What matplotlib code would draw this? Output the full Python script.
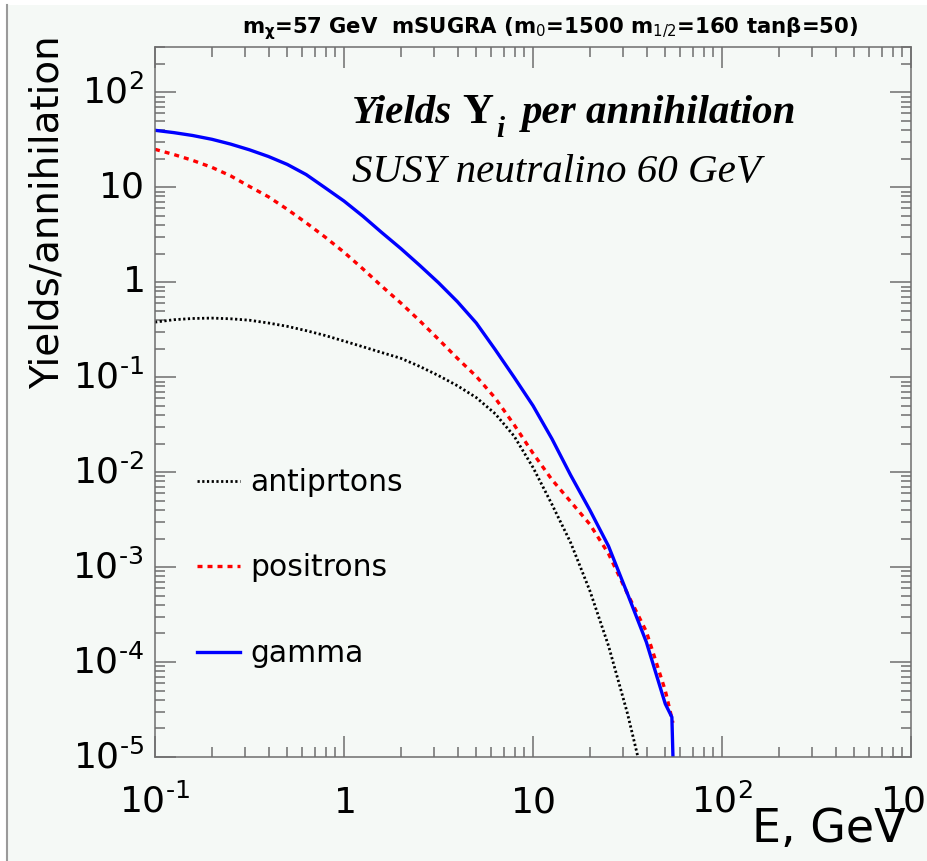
#!/usr/bin/env python3
"""
Yields per annihilation for a 60 GeV SUSY neutralino (mSUGRA point).
"""

import matplotlib.pyplot as plt
from matplotlib.patches import Rectangle
from matplotlib.ticker import LogLocator, NullFormatter

# values
gamma_energy = [0.1, 0.126, 0.158, 0.2, 0.251, 0.316, 0.398, 0.501, 0.631, 0.794,
                1.0, 1.26, 1.58, 2.0, 2.51, 3.16, 3.98, 5.01, 6.31, 7.94,
                10.0, 12.6, 15.8, 20.0, 25.1, 31.6, 39.8, 50.1, 54.3, 55.2]
gamma_yield = [39.8, 37.6, 35.1, 32.0, 28.5, 24.8, 21.1, 17.4, 13.6, 9.89,
               7.16, 4.95, 3.35, 2.26, 1.51, 0.989, 0.624, 0.372, 0.195, 0.100,
               0.0501, 0.0224, 0.00933, 0.00398, 0.00166, 5.25e-4, 1.62e-4, 3.63e-5, 2.63e-5, 7.9e-6]

positron_energy = [0.1, 0.126, 0.158, 0.2, 0.251, 0.316, 0.398, 0.501, 0.631, 0.794,
                   1.0, 1.26, 1.58, 2.0, 2.51, 3.16, 3.98, 5.01, 6.31, 7.94,
                   10.0, 12.6, 15.8, 20.0, 25.1, 31.6, 39.8, 50.1, 55.0]
positron_yield = [25.1, 22.1, 19.2, 16.2, 13.2, 10.2, 7.94, 5.86, 4.22, 2.99,
                  2.07, 1.38, 0.912, 0.603, 0.394, 0.251, 0.158, 0.102, 0.0603, 0.0316,
                  0.0158, 0.00832, 0.0049, 0.00282, 0.00138, 5.25e-4, 2.09e-4, 5.01e-5, 2.29e-5]

antiproton_energy = [0.1, 0.126, 0.158, 0.2, 0.251, 0.316, 0.398, 0.501, 0.631, 0.794,
                     1.0, 1.26, 1.58, 2.0, 2.51, 3.16, 3.98, 5.01, 6.31, 7.94,
                     10.0, 12.6, 15.8, 20.0, 25.1, 31.6, 35.5, 37.2]
antiproton_yield = [0.380, 0.403, 0.415, 0.419, 0.412, 0.398, 0.372, 0.343, 0.309, 0.275,
                    0.240, 0.209, 0.182, 0.158, 0.130, 0.104, 0.0813, 0.0610, 0.0412, 0.0240,
                    0.0112, 0.00457, 0.00182, 5.62e-4, 1.48e-4, 2.88e-5, 1.10e-5, 7.1e-6]

x_ticks = [0.1, 1, 10, 100, 1000]
x_tick_labels = [r"$10^{\text{-}1}$", r"$1$", r"$10$", r"$10^{2}$", r"$10^{3}$"]
y_ticks = [1e-5, 1e-4, 1e-3, 1e-2, 1e-1, 1, 10, 100]
y_tick_labels = [r"$10^{\text{-}5}$", r"$10^{\text{-}4}$", r"$10^{\text{-}3}$",
                 r"$10^{\text{-}2}$", r"$10^{\text{-}1}$", r"$1$", r"$10$", r"$10^{2}$"]

W, H = 927, 861
bg = "#f5f9f6"
axis_grey = "#6e6e6e"


def fx(px):
    return px / W


def fy(py):
    return 1 - py / H


fig = plt.figure(figsize=(W / 100, H / 100), dpi=100, facecolor=bg)

# white strip / border of the original screenshot
fig.patches.append(Rectangle((0, fy(5)), 1, 5 / H, transform=fig.transFigure,
                             facecolor="white", edgecolor="none"))
fig.patches.append(Rectangle((0, 0), fx(6), 1, transform=fig.transFigure,
                             facecolor="white", edgecolor="none"))
fig.add_artist(plt.Line2D([fx(6.5), fx(6.5)], [0, fy(5)], transform=fig.transFigure,
                          color="#9a9a9a", lw=1.5))

ax = fig.add_axes([fx(155), fy(757), (911 - 155) / W, (757 - 47) / H])
ax.set_facecolor(bg)
ax.set_xscale("log")
ax.set_yscale("log")

l_pbar, = ax.plot(antiproton_energy, antiproton_yield, color="black", lw=2.0,
                  linestyle=(0, (0.8, 0.9)), label="antiprtons")
l_pos, = ax.plot(positron_energy, positron_yield, color="#ff0000", lw=2.4,
                 linestyle=(0, (1.5, 1.5)), label="positrons")
l_gam, = ax.plot(gamma_energy, gamma_yield, color="#0000ff", lw=2.4, label="gamma")

ax.set_xlim(0.1, 1000)
ax.set_ylim(1e-5, 300)

ax.set_xticks(x_ticks, labels=x_tick_labels)
ax.set_yticks(y_ticks, labels=y_tick_labels)
ax.xaxis.set_minor_locator(LogLocator(base=10, subs=range(2, 10), numticks=20))
ax.yaxis.set_minor_locator(LogLocator(base=10, subs=range(2, 10), numticks=20))
ax.xaxis.set_minor_formatter(NullFormatter())
ax.yaxis.set_minor_formatter(NullFormatter())

ax.tick_params(which="both", direction="in", top=True, right=True, color=axis_grey, width=1.1)
ax.tick_params(which="major", length=15)
ax.tick_params(which="minor", length=7.5)
ax.tick_params(axis="x", which="major", labelsize=26, pad=40)
ax.tick_params(axis="y", which="major", labelsize=26, pad=8)
for lbl in ax.get_xticklabels():
    lbl.set_va("baseline")
for lbl in ax.get_yticklabels():
    lbl.set_va("center")
for sp in ax.spines.values():
    sp.set_color(axis_grey)
    sp.set_linewidth(1.1)

# axis titles
fig.text(fx(905), fy(842), "E, GeV", ha="right", va="baseline", fontsize=33)
fig.text(fx(48), fy(212), "Yields/annihilation", rotation=90, ha="center", va="center",
         fontsize=28)

# header
fig.text(fx(550), fy(33),
         r"m$_{\mathregular{χ}}$=57 GeV  mSUGRA (m$_{0}$=1500 m$_{1/2}$=160 tanβ=50)",
         ha="center", va="baseline", fontsize=15.3, fontweight="bold")

# annotation
serif = "Liberation Serif"
fig.text(fx(352), fy(123), "Yields", family=serif, style="italic", weight="bold",
         fontsize=29.5, ha="left", va="baseline")
fig.text(fx(462), fy(123), "Y", family=serif, weight="bold", fontsize=31,
         ha="left", va="baseline")
fig.text(fx(496), fy(137), "i", family=serif, style="italic", weight="bold",
         fontsize=21, ha="left", va="baseline")
fig.text(fx(522), fy(123), "per annihilation", family=serif, style="italic", weight="bold",
         fontsize=29.5, ha="left", va="baseline")
fig.text(fx(352), fy(182), "SUSY neutralino 60 GeV", family=serif, style="italic",
         fontsize=29.5, ha="left", va="baseline")

ax.legend(handles=[l_pbar, l_pos, l_gam], loc="upper left",
          bbox_to_anchor=(fx(197), fy(468)), bbox_transform=fig.transFigure,
          frameon=False, fontsize=21.4, handlelength=1.45, handletextpad=0.33,
          labelspacing=1.9, borderpad=0, borderaxespad=0)

plt.savefig("out.png", dpi=100, facecolor=bg)
